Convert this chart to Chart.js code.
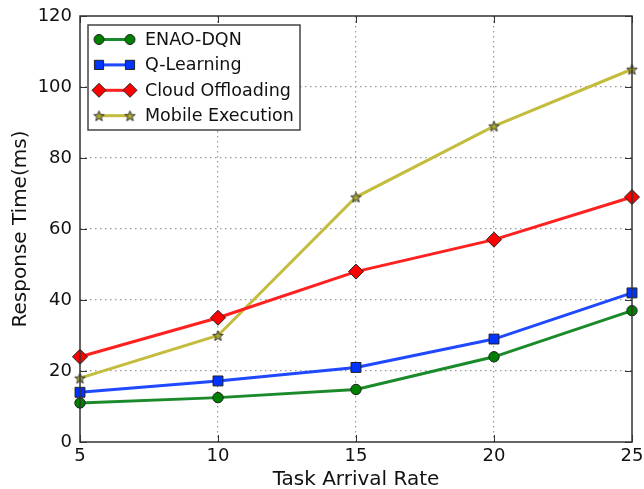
<!DOCTYPE html>
<html><head><meta charset="utf-8">
<script src="https://cdn.jsdelivr.net/npm/chart.js@4.4.0/dist/chart.umd.min.js"></script>
<style>html,body{margin:0;padding:0;background:#fff;}#wrap{width:644px;height:489px;position:relative;}</style>
</head><body><div id="wrap"><canvas id="c" width="644" height="489"></canvas></div>
<script>
const rates = [5, 10, 15, 20, 25];
const enaoDqn = [11, 12.5, 14.8, 24, 37];
const qLearning = [14, 17.2, 21, 29, 42];
const cloudOffloading = [24, 35, 48, 57, 69];
const mobileExecution = [18, 30, 69, 89, 105];
const seriesNames = ['ENAO-DQN', 'Q-Learning', 'Cloud Offloading', 'Mobile Execution'];
const xTicks = [5, 10, 15, 20, 25];
const yTicks = [0, 20, 40, 60, 80, 100, 120];

function starCanvas(r, fill, stroke) {
  const s = Math.ceil(r * 2 + 4);
  const cv = document.createElement('canvas');
  cv.width = s; cv.height = s;
  const g = cv.getContext('2d');
  const cx = s / 2, cy = s / 2 + 0.6;
  g.beginPath();
  for (let i = 0; i < 10; i++) {
    const rr = i % 2 === 0 ? r : r * 0.42;
    const a = -Math.PI / 2 + i * Math.PI / 5;
    const px = cx + rr * Math.cos(a), py = cy + rr * Math.sin(a);
    if (i === 0) g.moveTo(px, py); else g.lineTo(px, py);
  }
  g.closePath();
  g.fillStyle = fill; g.fill();
  g.lineWidth = 1; g.strokeStyle = stroke; g.stroke();
  return cv;
}
const star = starCanvas(5.5, '#a8a830', '#333');

const colors = ['#008000', '#0033ff', '#ff0000', '#bfbf00'];
const lineColors = ['#1a8a2a', '#1f48ff', '#ff2020', '#c4bc3c'];
const styles = ['circle', 'rect', 'rectRot', star];
const radii = [5.2, 7, 7.5, 5.5];
const dataArr = [enaoDqn, qLearning, cloudOffloading, mobileExecution];

const datasets = seriesNames.map((n, i) => ({
  label: n,
  data: rates.map((x, j) => ({x: x, y: dataArr[i][j]})),
  borderColor: lineColors[i],
  backgroundColor: colors[i],
  borderWidth: 3,
  pointStyle: styles[i],
  pointRadius: radii[i],
  pointHoverRadius: radii[i],
  pointBorderColor: '#222',
  pointBorderWidth: 1,
  pointBackgroundColor: colors[i],
  tension: 0,
  clip: false
}));

function drawMarker(ctx, i, x, y) {
  const st = styles[i];
  if (typeof st !== 'string') {
    ctx.drawImage(st, x - st.width / 2, y - st.height / 2);
    return;
  }
  ctx.save();
  ctx.fillStyle = colors[i];
  ctx.strokeStyle = '#222';
  ctx.lineWidth = 1;
  const r = i === 2 ? 7 : (i === 1 ? 6.5 : 5);
  Chart.helpers.drawPoint(ctx, {pointStyle: st, radius: r, rotation: 0, borderWidth: 1}, x, y);
  ctx.restore();
}

const customPlugin = {
  id: 'custom',
  afterDraw(chart) {
    const ctx = chart.ctx;
    const a = chart.chartArea;
    const xs = chart.scales.x, ys = chart.scales.y;
    ctx.save();
    ctx.strokeStyle = '#333';
    ctx.lineWidth = 1;
    xTicks.forEach(v => {
      const px = Math.round(xs.getPixelForValue(v)) + 0.5;
      ctx.beginPath(); ctx.moveTo(px, a.bottom); ctx.lineTo(px, a.bottom - 7); ctx.stroke();
      ctx.beginPath(); ctx.moveTo(px, a.top); ctx.lineTo(px, a.top + 7); ctx.stroke();
    });
    yTicks.forEach(v => {
      const py = Math.round(ys.getPixelForValue(v)) + 0.5;
      ctx.beginPath(); ctx.moveTo(a.left, py); ctx.lineTo(a.left + 7, py); ctx.stroke();
      ctx.beginPath(); ctx.moveTo(a.right, py); ctx.lineTo(a.right - 7, py); ctx.stroke();
    });
    ctx.strokeStyle = '#333';
    ctx.lineWidth = 1.5;
    ctx.strokeRect(a.left, a.top, a.right - a.left, a.bottom - a.top);
    // legend
    const lx = 88, ly = 25, lw = 212, lh = 105;
    ctx.fillStyle = '#fff';
    ctx.fillRect(lx, ly, lw, lh);
    ctx.strokeStyle = '#444';
    ctx.lineWidth = 1.5;
    ctx.strokeRect(lx, ly, lw, lh);
    ctx.font = '17.5px "DejaVu Sans"';
    ctx.textBaseline = 'middle';
    seriesNames.forEach((n, i) => {
      const y = 39.5 + i * 25.4;
      ctx.strokeStyle = lineColors[i];
      ctx.lineWidth = 3;
      ctx.beginPath(); ctx.moveTo(99, y); ctx.lineTo(130, y); ctx.stroke();
      drawMarker(ctx, i, 99, y);
      drawMarker(ctx, i, 130, y);
      ctx.fillStyle = '#111';
      ctx.fillText(n, 145, y + 1);
    });
    ctx.restore();
  }
};

new Chart(document.getElementById('c'), {
  type: 'line',
  data: {datasets},
  plugins: [customPlugin],
  options: {
    responsive: false,
    animation: false,
    events: [],
    layout: {padding: {top: 16, right: 12, left: 0, bottom: 0}},
    plugins: {legend: {display: false}, tooltip: {enabled: false}},
    scales: {
      x: {
        type: 'linear', min: 5, max: 25,
        afterBuildTicks: s => { s.ticks = xTicks.map(v => ({value: v})); },
        afterFit: s => { s.height = 47; s.paddingLeft = 0; s.paddingRight = 0; },
        ticks: {color: '#111', font: {family: 'DejaVu Sans', size: 18}, padding: 4, maxRotation: 0, autoSkip: false},
        grid: {
          drawTicks: false,
          color: ctx => (ctx.tick && (ctx.tick.value === 5 || ctx.tick.value === 25)) ? 'rgba(0,0,0,0)' : '#999',
          lineWidth: 1.2,
          tickLength: 0
        },
        border: {display: false, dash: [1.5, 3.5]},
        title: {display: true, text: 'Task Arrival Rate', color: '#111', font: {family: 'DejaVu Sans', size: 20}, padding: {top: 0, bottom: -3}}
      },
      y: {
        min: 0, max: 120,
        afterBuildTicks: s => { s.ticks = yTicks.map(v => ({value: v})); },
        afterFit: s => { s.width = 80; s.paddingTop = 0; s.paddingBottom = 0; },
        ticks: {color: '#111', font: {family: 'DejaVu Sans', size: 18}, padding: 8},
        grid: {
          drawTicks: false,
          color: ctx => (ctx.tick && (ctx.tick.value === 0 || ctx.tick.value === 120)) ? 'rgba(0,0,0,0)' : '#999',
          lineWidth: 1.2
        },
        border: {display: false, dash: [1.5, 3.5]},
        title: {display: true, text: 'Response Time(ms)', color: '#111', font: {family: 'DejaVu Sans', size: 20}, padding: {top: 9, bottom: 0}}
      }
    }
  }
});
</script></body></html>
